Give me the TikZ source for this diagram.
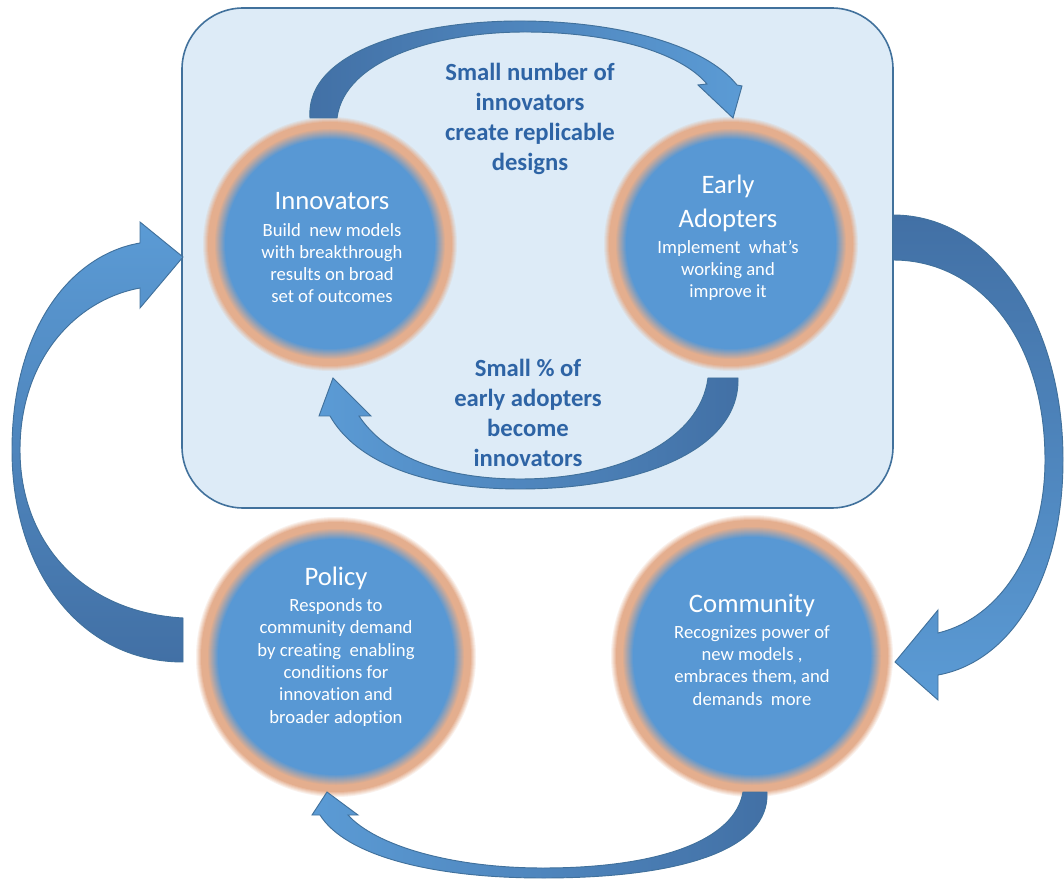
\documentclass[tikz,border=0pt]{standalone}
\usepackage{fontspec}
\setmainfont{Carlito}[Ligatures={NoCommon}]
\definecolor{rectfill}{RGB}{221,235,247}
\definecolor{rectline}{RGB}{65,113,156}
\definecolor{arrlight}{RGB}{91,155,213}
\definecolor{arrdark}{RGB}{66,112,165}
\definecolor{peachc}{RGB}{228,174,142}
\definecolor{bluec}{RGB}{88,152,212}
\definecolor{labelc}{RGB}{46,100,165}
\newcommand{\blurcirc}[3]{%
  \foreach \k in {0,...,6}{%
    \pgfmathsetmacro\pp{\k*100/6}%
    \fill[peachc!\pp!#3] (#1) circle[radius={(#2-\k)*0.75pt}];}%
  \foreach \k in {0,...,11}{%
    \pgfmathsetmacro\pp{\k*100/11}%
    \fill[bluec!\pp!peachc] (#1) circle[radius={(#2-12-\k)*0.75pt}];}%
}
\tikzset{
  ttl/.style={text=white, inner sep=0pt, align=center, anchor=base, font=\fontsize{20}{26}\selectfont},
  bdy/.style={text=white, inner sep=0pt, align=center, anchor=base, font=\fontsize{14}{16.7}\selectfont},
  lbl/.style={text=labelc, inner sep=0pt, align=center, anchor=base, font=\bfseries\fontsize{18.5}{22.5}\selectfont},
  blockarrow/.style={draw=rectline, line width=0.7pt, line join=miter}
}
\begin{document}
\begin{tikzpicture}[x=0.75pt,y=-0.75pt]
\useasboundingbox (0,0) rectangle (1064,880);
% main rounded box
\node[draw=rectline, fill=rectfill, line width=1.2pt, rounded corners=46pt, minimum width=711*0.75pt, minimum height=500*0.75pt, inner sep=0pt] (box) at (537.5,258) {};
% circle centres
\coordinate (innc) at (330,244);
\coordinate (earc) at (731,244);
\coordinate (polc) at (336,657);
\coordinate (comc) at (752,656);
\blurcirc{innc}{128}{rectfill}
\blurcirc{earc}{128}{rectfill}
\blurcirc{polc}{141}{white}
\blurcirc{comc}{142}{white}
% top arrow: innovators -> early adopters
\path[blockarrow, left color=arrdark, right color=arrlight]
 (310,118) .. controls (305,50) and (420,20) .. (525,21)
 .. controls (620,22) and (705,45) .. (737,85)
 -- (742,86) -- (733,118) -- (698,85) -- (707,84)
 .. controls (680,52) and (610,32) .. (525,32)
 .. controls (440,32) and (345,58) .. (337,118) -- cycle;
% inner bottom arrow: early adopters -> innovators
\path[blockarrow, left color=arrlight, right color=arrdark]
 (738,378) .. controls (740,450) and (640,489) .. (520,489)
 .. controls (420,489) and (355,460) .. (330,416)
 -- (319,416) -- (333,378) -- (371,416) -- (359,416)
 .. controls (385,455) and (440,479) .. (520,479)
 .. controls (620,479) and (700,440) .. (708,378) -- cycle;
% right big arrow: early adopters -> community
\path[blockarrow, top color=arrdark, bottom color=arrlight]
 (893,215) .. controls (990,215) and (1063,320) .. (1063,460)
 .. controls (1063,580) and (1010,662) .. (938,675)
 -- (938,700) -- (895,662) -- (938,610) -- (938,633)
 .. controls (1000,618) and (1045,550) .. (1045,460)
 .. controls (1045,340) and (980,260) .. (893,260) -- cycle;
% bottom arrow: community -> policy
\path[blockarrow, left color=arrlight, right color=arrdark]
 (767,792) .. controls (770,850) and (680,878) .. (543,878)
 .. controls (430,878) and (345,855) .. (320,815)
 -- (312,815) -- (327,792) -- (358,815) -- (348,815)
 .. controls (375,845) and (450,868) .. (543,868)
 .. controls (660,868) and (735,840) .. (743,792) -- cycle;
% left big arrow: policy -> innovators
\path[blockarrow, top color=arrlight, bottom color=arrdark]
 (183,662) .. controls (80,662) and (12,570) .. (12,450)
 .. controls (12,330) and (70,255) .. (140,243)
 -- (140,222) -- (183,257) -- (140,308) -- (140,288)
 .. controls (75,300) and (20,360) .. (20,450)
 .. controls (20,540) and (80,612) .. (183,618) -- cycle;
% texts (anchor base = baseline of last line)
\node[ttl] (innt) at (332,210) {Innovators};
\node[bdy] (innb) at (332,303) {Build\ \ new models\\with breakthrough\\results on broad\\set of outcomes};
\node[ttl] (eart) at (728,228) {Early\\Adopters};
\node[bdy] (earb) at (728,298) {Implement\ \ what’s\\working and\\improve it};
\node[ttl] (polt) at (336,585) {Policy};
\node[bdy] (polb) at (336,723) {Responds to\\community demand\\by creating\ \ enabling\\conditions for\\innovation and\\broader adoption};
\node[ttl] (comt) at (752,612) {Community};
\node[bdy] (comb) at (752,705) {Recognizes power of\\new models ,\\embraces them, and\\demands\ \ more};
\node[lbl] (toplbl) at (530,171) {Small number of\\innovators\\create replicable\\designs};
\node[lbl] (botlbl) at (528,467) {Small \% of\\early adopters\\become\\innovators};
\end{tikzpicture}
\end{document}
